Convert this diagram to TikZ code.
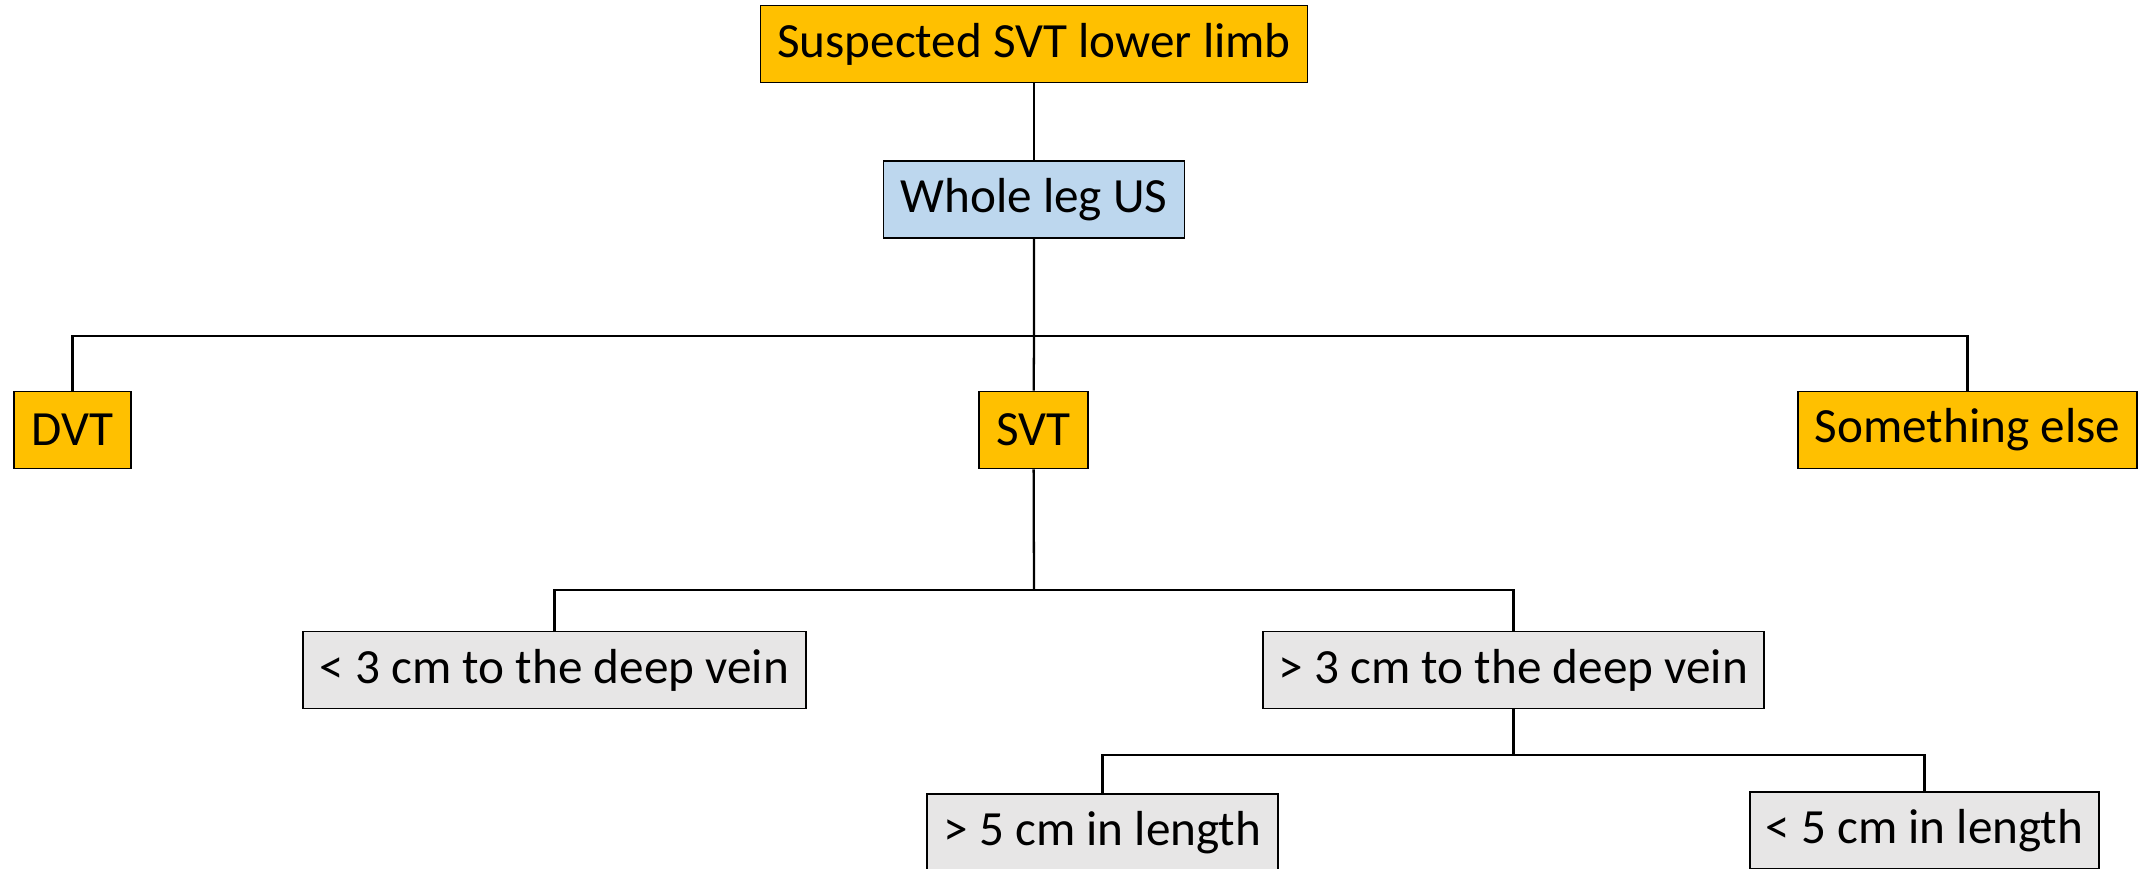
\documentclass[tikz,border=0pt]{standalone}
\usepackage{fontspec}
\setmainfont{Carlito}
\usepackage{tikz}
\usetikzlibrary{positioning}

\definecolor{svtorange}{HTML}{FFC000}
\definecolor{svtblue}{HTML}{BDD7EE}
\definecolor{svtgrey}{HTML}{E7E6E6}

\tikzset{
	box/.style={draw=black, line width=0.5pt, minimum height=0.77cm, inner sep=0pt, font=\fontsize{14}{16}\selectfont},
	orangebox/.style={box, fill=svtorange},
	bluebox/.style={box, fill=svtblue},
	greybox/.style={box, fill=svtgrey},
	link/.style={line width=0.65pt}
}

\begin{document}
\begin{tikzpicture}
		\useasboundingbox (0,0) rectangle (21.41,-8.69);

		\node[orangebox, minimum width=5.47cm] (susp) at (10.34,-0.44) 	{Suspected SVT lower limb} ;
		\node[bluebox, minimum width=3.01cm] (us) at (10.34,-1.995) 	{Whole leg US} ;

		\node[orangebox, minimum width=1.17cm] (dvt) at (0.725,-4.30) 	{DVT} ;
		\node[orangebox, minimum width=1.09cm] (svt) at (10.335,-4.30) 	{SVT} ;
		\node[orangebox, minimum width=3.39cm] (else) at (19.675,-4.30) 	{Something else} ;

		\node[greybox, minimum width=5.03cm] (near) at (5.545,-6.70) 	{< 3 cm to the deep vein} ;
		\node[greybox, minimum width=5.01cm] (far) at (15.135,-6.70) 	{> 3 cm to the deep vein} ;

		\node[greybox, minimum width=3.51cm, anchor=north] (long) at (11.025,-7.93) 	{> 5 cm in length} ;
		\node[greybox, minimum width=3.49cm, anchor=north] (short) at (19.245,-7.91) 	{< 5 cm in length} ;

		\coordinate (bus1) at (10.34,-3.36) ;
		\coordinate (bus2) at (10.34,-5.90) ;
		\coordinate (bus3) at (15.135,-7.55) ;

		\draw[link] (susp) -- (us) ;
		\draw[link] (us) -- (bus1) -- (svt) ;
		\draw[link] (bus1) -| (dvt) ;
		\draw[link] (bus1) -| (else) ;

		\draw[link] (svt) -- (bus2) ;
		\draw[link] (bus2) -| (near) ;
		\draw[link] (bus2) -| (far) ;

		\draw[link] (far) -- (bus3) ;
		\draw[link] (bus3) -| (long) ;
		\draw[link] (bus3) -| (short) ;
\end{tikzpicture}
\end{document}
